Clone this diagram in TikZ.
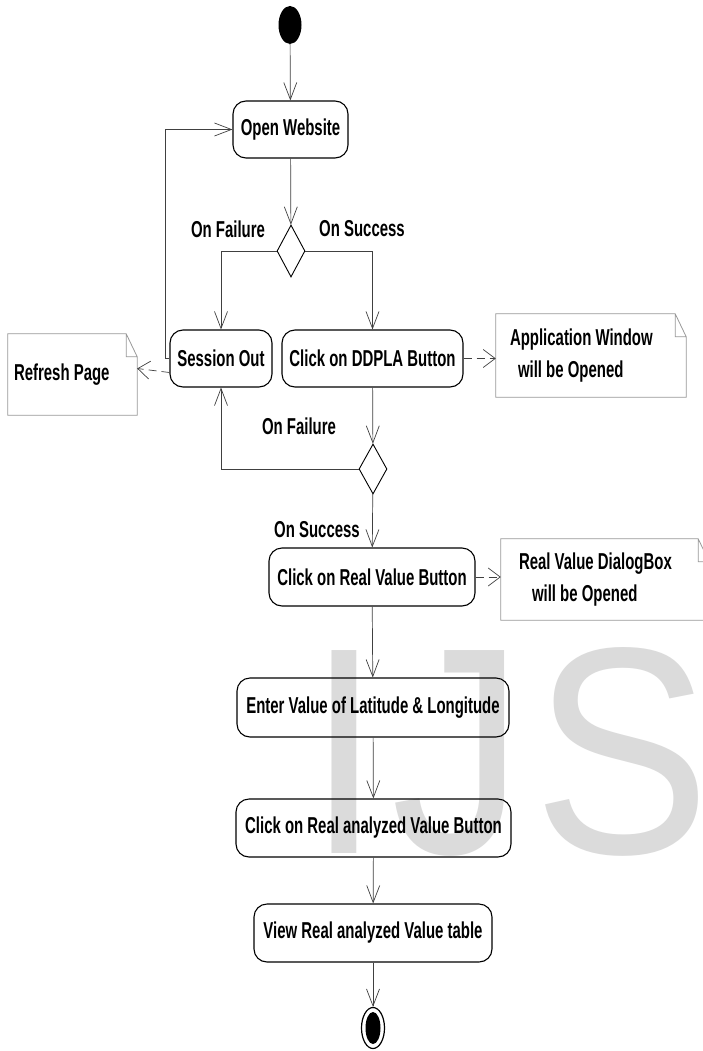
\documentclass[tikz,border=0pt]{standalone}
\usepackage{fontspec}
\setmainfont{Liberation Sans}[FakeStretch=0.65]
\newfontfamily\wmfont{Liberation Sans}[FakeStretch=0.9]
\usepackage{tikz}
\usetikzlibrary{shapes.geometric,% ellipse and diamond nodes
arrows.meta}
\tikzset{every node/.style={font=\bfseries\fontsize{23}{32}\selectfont},
  act/.style={draw, rounded corners=13pt, line width=1.1pt, minimum height=57pt, inner sep=0pt},
  note/.style={align=left, minimum height=81pt, inner ysep=0pt, execute at begin node={\spaceskip=0pt\xspaceskip=0pt}},
  flow/.style={draw=black!75, line width=0.7pt, -{Straight Barb[length=17pt,width=13pt]}},
  dep/.style={draw=black!75, line width=0.7pt, dash pattern=on 8pt off 5pt, -{Straight Barb[length=12pt,width=18pt]}},
  wm/.style={anchor=base west, inner sep=0pt, text=gray!28, font=\wmfont\fontsize{295}{295}\selectfont}}

\begin{document}
\begin{tikzpicture}[x=1pt, y=-1pt]
    \fill[white] (0,0) rectangle (702,1051);
    \useasboundingbox (0,0) rectangle (702,1051);
    % watermark
    \node[wm] (wmi) at (307,853) {I};
    \node[wm] (wmj) at (391,853) {J};
    \node[wm] (wms) at (533,853) {S};
    % activities
    \node[ellipse, fill=black, minimum width=23pt, minimum height=38pt, inner sep=0pt] (start) at (290,25) {};
    \node[act, minimum width=115pt] (open) at (290.5,129.5) {Open Website};
    \node[diamond, draw, line width=0.9pt, minimum width=28pt, minimum height=52pt, inner sep=0pt] (d1) at (291,251) {};
    \node[act, minimum width=102pt] (sessout) at (221,358.5) {Session Out};
    \node[act, minimum width=181pt] (ddpla) at (372.5,358.5) {Click on DDPLA Button};
    \node[diamond, draw, line width=0.9pt, minimum width=28pt, minimum height=50pt, inner sep=0pt] (d2) at (373,469) {};
    \node[act, minimum width=206pt, minimum height=58pt] (realval) at (372,577) {Click on Real Value Button};
    \node[act, minimum width=272pt, minimum height=59pt] (enter) at (373,707.5) {Enter Value of Latitude \& Longitude};
    \node[act, minimum width=275pt, minimum height=58pt] (analyzed) at (373.5,828) {Click on Real analyzed Value Button};
    \node[act, minimum width=238pt, minimum height=58pt] (viewtab) at (373,933) {View Real analyzed Value table};
    \node[ellipse, draw, line width=1.2pt, minimum width=23pt, minimum height=41pt, inner sep=0pt] (end) at (373,1028) {};
    \node[ellipse, fill=black, minimum width=15pt, minimum height=32pt, inner sep=0pt] (endin) at (end) {};
    % notes
    \node[note, inner xsep=6pt, text width=117pt] (refresh) at (72.5,374.5) {Refresh Page};
    \node[note, inner xsep=14pt, text width=162pt, minimum height=83pt] (appwin) at (591,355.5) {Application Window\\\hspace*{8pt}will be Opened};
    \node[note, inner xsep=18pt, text width=172pt] (dialog) at (605,579.5) {Real Value DialogBox\\\hspace*{13pt}will be Opened};
    \foreach \n in {refresh,appwin,dialog}
      \draw[black!40, line width=0.8pt] (\n.north west) -- ([xshift=-11pt]\n.north east) -- ([yshift=-23pt]\n.north east)
        -- (\n.south east) -- (\n.south west) -- cycle
        ([xshift=-11pt]\n.north east) |- ([yshift=-23pt]\n.north east);
    % guards
    \node (fail1) at (228,229) {On Failure};
    \node (succ1) at (362,229) {On Success};
    \node (fail2) at (299,426) {On Failure};
    \node (succ2) at (317,530) {On Success};
    % flows
    \draw[flow] (start) -- (open);
    \draw[flow] (open) -- (d1);
    \draw[flow] (d1.west) -| (sessout.north);
    \draw[flow] (d1.east) -| (ddpla.north);
    \draw[flow] (sessout.west) -- ++(-4,0) |- (open.west);
    \draw[flow] (ddpla) -- (d2);
    \draw[flow] (d2.west) -| (sessout.south);
    \draw[flow] (d2) -- (realval);
    \foreach \a/\b in {realval/enter, enter/analyzed, analyzed/viewtab, viewtab/end}
      \draw[flow] (\a) -- (\b);
    % dependencies to notes
    \draw[dep] ([yshift=-14pt]sessout.west) -- ([yshift=6pt]refresh.east);
    \draw[dep] (ddpla.east) -- (ddpla.east -| appwin.west);
    \draw[dep] (realval.east) -- (realval.east -| dialog.west);
  \end{tikzpicture}
\end{document}
